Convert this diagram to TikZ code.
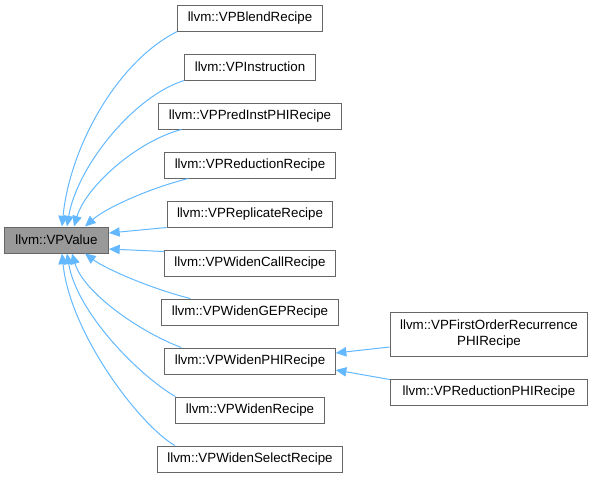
\documentclass[tikz,border=0pt]{standalone}
\usepackage{fontspec}
\setmainfont{Liberation Sans}
\usetikzlibrary{arrows.meta}
\definecolor{edgeblue}{HTML}{63B8FF}
\definecolor{boxline}{HTML}{666666}
\definecolor{basefill}{HTML}{999999}

\begin{document}
\begin{tikzpicture}[x=0.75pt,y=-0.75pt,line width=0.75pt,>={Triangle[length=8pt,width=7pt]},
  cls/.style={draw=boxline,fill=white,font=\fontsize{10}{12}\selectfont,
    inner xsep=7.5pt,inner ysep=0pt,minimum height=19.5pt},
  base/.style={cls,fill=basefill},
  edge/.style={->,draw=edgeblue}]
\useasboundingbox (0,0) rectangle (593,480);
\def\dy{49}
% ================= base class =================
\node[base,minimum width=78pt] (vpvalue) at (56.5,240) {llvm::VPValue};
% ================= direct subclasses =================
\foreach \nm/\txt [count=\i from 0] in {blend/VPBlendRecipe,instr/VPInstruction,
    predinst/VPPredInstPHIRecipe,reduction/VPReductionRecipe,replicate/VPReplicateRecipe,
    widencall/VPWidenCallRecipe,widengep/VPWidenGEPRecipe,widenphi/VPWidenPHIRecipe,
    widen/VPWidenRecipe,widenselect/VPWidenSelectRecipe}{
  \pgfmathsetmacro\y{18+\i*\dy}
  \node[cls] (\nm) at (250,\y) {llvm::\txt};
}
% ================= subclasses of VPWidenPHIRecipe =================
\node[cls,minimum width=148pt,minimum height=33pt,align=center] (forphi) at (489,334)
  {llvm::VPFirstOrderRecurrence\\PHIRecipe};
\node[cls,minimum width=148pt] (redphi) at (489,392) {llvm::VPReductionPHIRecipe};
% ================= inheritance edges =================
% upper half: into the top of VPValue
\draw[edge] (blend.south west) .. controls +(-60,30) and +(8,-80) ..
  ([shift={(58,0)}]vpvalue.north west);
\draw[edge] (instr.south west) .. controls +(-50,15) and +(10,-60) ..
  ([shift={(63,0)}]vpvalue.north west);
\draw[edge] ([shift={(23,0)}]predinst.south west) .. controls +(-45,12) and +(12,-40) ..
  ([shift={(70,0)}]vpvalue.north west);
\draw[edge] ([shift={(24,0)}]reduction.south west) .. controls +(-40,10) and +(20,-18) ..
  ([shift={(81,0)}]vpvalue.north west);
% sideways: into the right side
\draw[edge] (replicate.south west) -- ([shift={(0,-7)}]vpvalue.east);
\draw[edge] ([shift={(0,2)}]widencall.north west) -- ([shift={(0,9)}]vpvalue.east);
% lower half: into the bottom of VPValue
\draw[edge] ([shift={(29,0)}]widengep.north west) .. controls +(-40,-10) and +(20,15) ..
  ([shift={(81,0)}]vpvalue.south west);
\draw[edge] ([shift={(17,0)}]widenphi.north west) .. controls +(-40,-15) and +(12,40) ..
  ([shift={(68,0)}]vpvalue.south west);
\draw[edge] (widen.north west) .. controls +(-35,-20) and +(10,60) ..
  ([shift={(63,0)}]vpvalue.south west);
\draw[edge] ([shift={(18,0)}]widenselect.north west) .. controls +(-35,-20) and +(8,80) ..
  ([shift={(58,0)}]vpvalue.south west);
% second level
\draw[edge] ([shift={(0,13)}]forphi.west) -- ([shift={(0,-8)}]widenphi.east);
\draw[edge] ([shift={(0,1)}]redphi.north west) -- ([shift={(0,9)}]widenphi.east);
\end{tikzpicture}
\end{document}
